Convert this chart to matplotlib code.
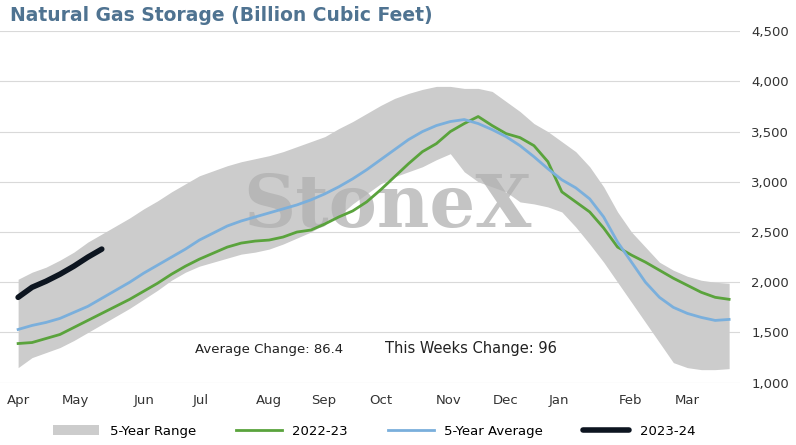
import numpy as np
import matplotlib.pyplot as plt

months = ['Apr', 'May', 'Jun', 'Jul', 'Aug', 'Sep', 'Oct', 'Nov', 'Dec', 'Jan', 'Feb', 'Mar']
month_pos = [0, 4.1, 9.0, 13.1, 18.0, 21.9, 26.0, 30.9, 35.0, 38.8, 43.9, 48.0]

avg5 = [1530, 1570, 1600, 1640, 1700, 1760, 1840, 1920, 2000, 2090,
        2170, 2250, 2330, 2420, 2490, 2560, 2610, 2650, 2690, 2730,
        2770, 2820, 2880, 2950, 3030, 3120, 3220, 3320, 3420, 3500,
        3560, 3600, 3620, 3580, 3520, 3450, 3360, 3250, 3130, 3020,
        2940, 2830, 2650, 2400, 2200, 2000, 1850, 1750, 1690, 1650,
        1620, 1630]
s2223 = [1390, 1400, 1440, 1480, 1550, 1620, 1690, 1760, 1830, 1910,
         1990, 2080, 2160, 2230, 2290, 2350, 2390, 2410, 2420, 2450,
         2500, 2520, 2580, 2650, 2710, 2800, 2920, 3050, 3180, 3300,
         3380, 3500, 3580, 3650, 3560, 3480, 3440, 3360, 3200, 2900,
         2800, 2700, 2540, 2350, 2270, 2200, 2120, 2040, 1970, 1900,
         1850, 1830]
s2324 = [1850, 1950, 2010, 2080, 2160, 2250, 2330]
rng_hi = [2030, 2100, 2150, 2220, 2300, 2400, 2480, 2560, 2640, 2730,
          2810, 2900, 2980, 3060, 3110, 3160, 3200, 3230, 3260, 3300,
          3350, 3400, 3450, 3530, 3600, 3680, 3760, 3830, 3880, 3920,
          3950, 3950, 3930, 3930, 3900, 3800, 3700, 3580, 3500, 3400,
          3300, 3150, 2950, 2700, 2500, 2350, 2200, 2120, 2060, 2020,
          2000, 1990]
rng_lo = [1150, 1250, 1300, 1350, 1420, 1500, 1580, 1660, 1740, 1830,
          1920, 2020, 2100, 2160, 2200, 2240, 2280, 2300, 2330, 2380,
          2440, 2500, 2580, 2660, 2780, 2880, 2980, 3050, 3100, 3150,
          3220, 3280, 3100, 3000, 2950, 2900, 2800, 2780, 2750, 2700,
          2550, 2380, 2200, 2000, 1800, 1600, 1400, 1200, 1150, 1130,
          1130, 1140]

x = np.arange(len(avg5))
fig = plt.figure(figsize=(7.96, 4.45), dpi=100)
ax = fig.add_axes([0.0, 0.14, 0.93, 0.79])
ax.fill_between(x, rng_lo, rng_hi, color='#cccccc', lw=0, label='5-Year Range')
ax.plot(x, s2223, color='#5aa33c', lw=2, label='2022-23', zorder=3)
ax.plot(x, avg5, color='#7aafdc', lw=2, label='5-Year Average', zorder=3)
ax.plot(np.arange(len(s2324)), s2324, color='#0d1520', lw=4, label='2023-24',
        solid_capstyle='round', zorder=3)

ax.set_xlim(-1.3, 51.8)
ax.set_ylim(1000, 4500)
ax.yaxis.tick_right()
ax.set_yticks(range(1000, 4501, 500))
ax.set_yticklabels([f'{v:,}' for v in range(1000, 4501, 500)])
ax.set_xticks(month_pos)
ax.set_xticklabels(months)
ax.tick_params(length=0, labelsize=9.5, colors='#333333', pad=8)
ax.grid(axis='y', color='#d9d9d9', lw=0.8)
ax.set_axisbelow(True)
for sp in ax.spines.values():
    sp.set_visible(False)

ax.text(26.5, 2750, 'StoneX', fontsize=52, family='DejaVu Serif', color='#b0b0b0',
        alpha=0.75, ha='center', va='center', fontweight='bold', zorder=2)
ax.text(18, 1300, 'Average Change: 86.4', fontsize=9.5, ha='center', color='#222222')
ax.text(32.5, 1300, 'This Weeks Change: 96', fontsize=10.5, ha='center', color='#222222')

fig.text(0.012, 0.965, 'Natural Gas Storage (Billion Cubic Feet)', fontsize=13.5,
         fontweight='bold', color='#4f7391', va='center')
fig.legend(loc='lower center', ncol=4, frameon=False, fontsize=9.5,
           bbox_to_anchor=(0.47, -0.01), handlelength=3.5, columnspacing=3)
fig.savefig('out.png', dpi=100)
